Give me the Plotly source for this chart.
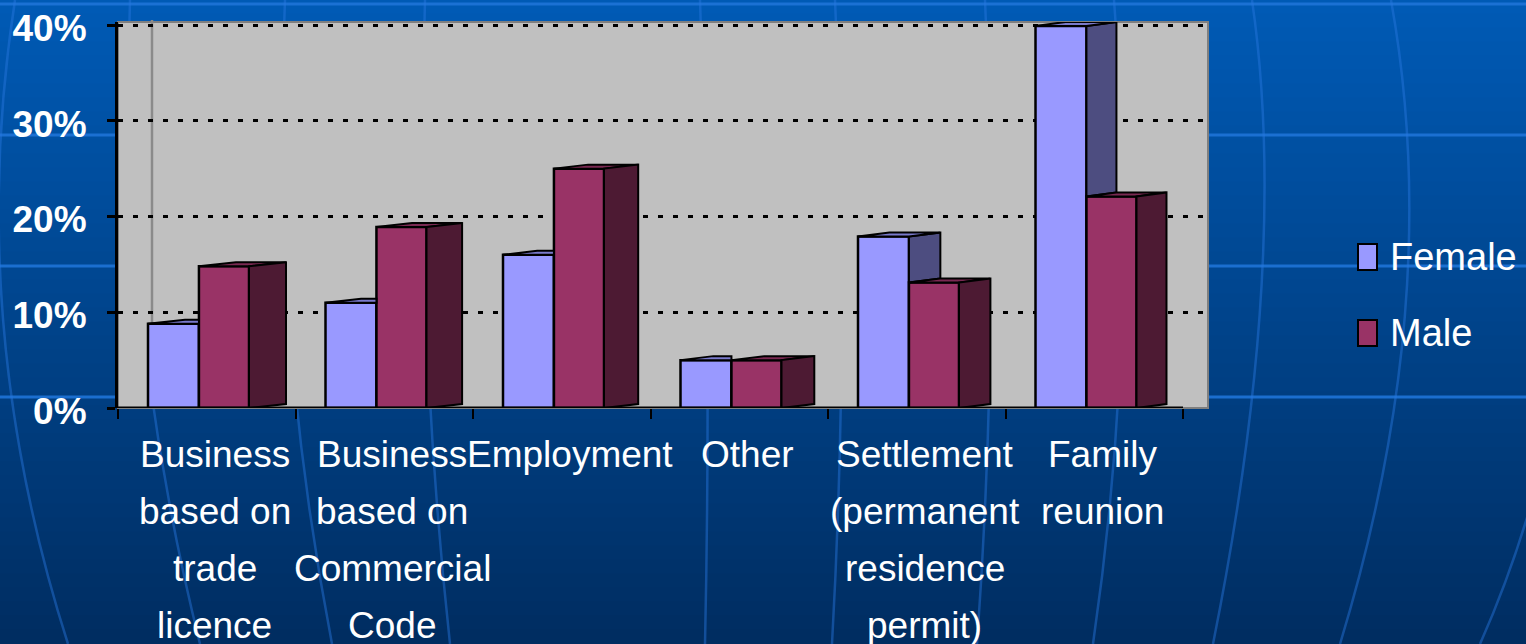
import plotly.graph_objects as go

# ---------------- data ----------------
categories = [
    "Business<br>based on<br>trade<br>licence",
    "Business<br>based on<br>Commercial<br>Code",
    "Employment",
    "Other",
    "Settlement<br>(permanent<br>residence<br>permit)",
    "Family<br>reunion",
]
female = [8.8, 11.0, 16.0, 5.0, 17.9, 39.9]
male = [14.8, 18.9, 25.0, 5.0, 13.1, 22.1]
y_ticks = [0, 10, 20, 30, 40]
y_tick_text = ["0%", "10%", "20%", "30%", "40%"]
series_names = ["Female", "Male"]

# ---------------- layout constants (pixels) ----------------
W, H = 1526, 644
L, R, T, B = 118, 1208, 22, 408
PX_CAT = 177.5
PX_PCT = 9.575
X0 = -0.5
X1 = X0 + (R - L) / PX_CAT
Y1 = (B - T) / PX_PCT

FONT = "Arial, Liberation Sans, sans-serif"
F_FRONT, F_SIDE, F_TOP = "#9999FF", "#4D4D80", "#7A7ACC"
M_FRONT, M_SIDE, M_TOP = "#993366", "#4D1A33", "#7A2952"

F_OFF, F_W = -0.331, 0.287
M_OFF, M_W = -0.044, 0.282
RISE = 4 / PX_PCT


def depth(i):
    return (37 - 1.4 * i) / PX_CAT


def pxx(p):
    return (p - L) / (R - L)


def pxy(p):
    return (B - p) / (B - T)


idx = list(range(len(categories)))

fig = go.Figure()

fig.add_trace(go.Bar(x=idx, y=female, name=series_names[0], offset=F_OFF, width=F_W,
                     marker=dict(color=F_FRONT, line=dict(color="black", width=2.5)),
                     showlegend=False))
fig.add_trace(go.Bar(x=idx, y=male, name=series_names[1], offset=M_OFF, width=M_W,
                     marker=dict(color=M_FRONT, line=dict(color="black", width=2.5)),
                     showlegend=False))


def poly(xs, ys, color):
    fig.add_trace(go.Scatter(x=xs + [xs[0]], y=ys + [ys[0]], mode="lines", fill="toself",
                             fillcolor=color, line=dict(color="black", width=2),
                             hoverinfo="skip", showlegend=False))


for i in idx:
    d = depth(i)
    f, m = female[i], male[i]
    fL, fR = i + F_OFF, i + F_OFF + F_W
    mL, mR = i + M_OFF, i + M_OFF + M_W
    # female side (only the part that shows above the male front)
    if f > m:
        poly([fR, fR, fR + d, fR + d], [m, f, f + RISE, m + RISE], F_SIDE)
        poly([fL, fR, fR + d, fL + d], [f, f, f + RISE, f + RISE], F_TOP)
    else:
        poly([fL, fR, fR, fL + d], [f, f, f + RISE, f + RISE], F_TOP)
    # male top and side
    poly([mL, mR, mR + d, mL + d], [m, m, m + RISE, m + RISE], M_TOP)
    poly([mR, mR, mR + d, mR + d], [0, m, m + RISE, RISE], M_SIDE)

# ---------------- background shapes ----------------
shapes = []
top_c = (0, 90, 182)
bot_c = (0, 45, 96)
n_bands = 46
band = H / n_bands
for k in range(n_bands):
    t = (k + 0.5) / n_bands
    c = tuple(int(round(top_c[j] + (bot_c[j] - top_c[j]) * t)) for j in range(3))
    shapes.append(dict(type="rect", xref="paper", yref="paper", layer="below",
                       x0=pxx(-5), x1=pxx(W + 5), y0=pxy(k * band - 0.5), y1=pxy((k + 1) * band + 0.5),
                       fillcolor="rgb(%d,%d,%d)" % c, line=dict(width=0)))

for yy in [4, 135, 266, 397]:
    shapes.append(dict(type="line", xref="paper", yref="paper", layer="below",
                       x0=pxx(0), x1=pxx(W), y0=pxy(yy), y1=pxy(yy),
                       line=dict(color="rgba(30,115,215,0.9)", width=3)))

meridians = [
    ((15, 0), (-35, 322), (68, 644)),
    ((130, 0), (120, 322), (200, 644)),
    ((285, 0), (270, 322), (332, 644)),
    ((425, 0), (415, 322), (450, 644)),
    ((700, 0), (712, 322), (705, 644)),
    ((835, 0), (850, 322), (832, 644)),
    ((985, 0), (1000, 322), (977, 644)),
    ((1114, 0), (1140, 322), (1093, 644)),
    ((1252, 0), (1290, 260), (1213, 644)),
    ((1391, 0), (1445, 300), (1340, 644)),
    ((1560, 380), (1535, 520), (1480, 644)),
]
for (p0, c, p1) in meridians:
    path = "M %f,%f Q %f,%f %f,%f" % (pxx(p0[0]), pxy(p0[1]), pxx(c[0]), pxy(c[1]), pxx(p1[0]), pxy(p1[1]))
    shapes.append(dict(type="path", xref="paper", yref="paper", layer="below", path=path,
                       line=dict(color="rgba(40,120,225,0.45)", width=2.5)))

# plot area (gray walls)
shapes.append(dict(type="rect", xref="paper", yref="paper", layer="below",
                   x0=0, x1=1, y0=0, y1=1, fillcolor="#C0C0C0",
                   line=dict(color="#7F7F7F", width=2)))
# back wall left edge
shapes.append(dict(type="line", xref="x", yref="paper", layer="below",
                   x0=X0 + 34 / PX_CAT, x1=X0 + 34 / PX_CAT, y0=pxy(405), y1=pxy(20),
                   line=dict(color="#8A8A8A", width=2.5)))
# category axis line
shapes.append(dict(type="line", xref="x", yref="y", layer="above",
                   x0=-0.5, x1=len(categories) - 0.5, y0=0, y1=0,
                   line=dict(color="black", width=3)))

# ---------------- annotations ----------------
annotations = []
LINE_GAP = 57
for i, lab in enumerate(categories):
    for k, line in enumerate(lab.split("<br>")):
        cy = 454 + LINE_GAP * k
        annotations.append(dict(x=i + 0.045, y=0, xref="x", yref="paper", text=line,
                                showarrow=False, xanchor="center", yanchor="middle",
                                yshift=-(cy - B), font=dict(family=FONT, size=37, color="white")))

leg_items = [(series_names[0], F_FRONT, 257), (series_names[1], M_FRONT, 333)]
for name, col, cy in leg_items:
    shapes.append(dict(type="rect", xref="paper", yref="paper", layer="above",
                       x0=pxx(1358), x1=pxx(1377), y0=pxy(cy + 13), y1=pxy(cy - 13),
                       fillcolor=col, line=dict(color="black", width=2)))
    annotations.append(dict(x=pxx(1388), y=pxy(cy), xref="paper", yref="paper", text=name,
                            showarrow=False, xanchor="left", yanchor="middle",
                            font=dict(family=FONT, size=38, color="white")))

fig.update_layout(
    width=W, height=H,
    margin=dict(l=L, r=W - R, t=T, b=H - B, pad=0, autoexpand=False),
    paper_bgcolor="#004488",
    plot_bgcolor="rgba(0,0,0,0)",
    barmode="overlay",
    showlegend=False,
    shapes=shapes,
    annotations=annotations,
    xaxis=dict(range=[X0, X1], tickvals=[j - 0.5 for j in range(len(categories) + 1)],
               ticks="outside", ticklen=10, tickwidth=2, tickcolor="black",
               showticklabels=False, showgrid=False, zeroline=False, showline=False,
               automargin=False, fixedrange=True),
    yaxis=dict(range=[0, Y1], tickvals=y_ticks, ticktext=y_tick_text,
               ticks="outside", ticklen=8, tickwidth=3, tickcolor="black",
               showline=True, linecolor="black", linewidth=3,
               showgrid=True, gridcolor="black", gridwidth=3, griddash="5px,10px",
               zeroline=False, ticklabelstandoff=13, ticklabelshift=3,
               tickfont=dict(family=FONT, size=37, color="white", weight="bold"),
               automargin=False, fixedrange=True),
)

fig.write_html("out.html", config={"displayModeBar": False},
               post_script="document.body.style.margin='0';document.body.style.overflow='hidden';")
